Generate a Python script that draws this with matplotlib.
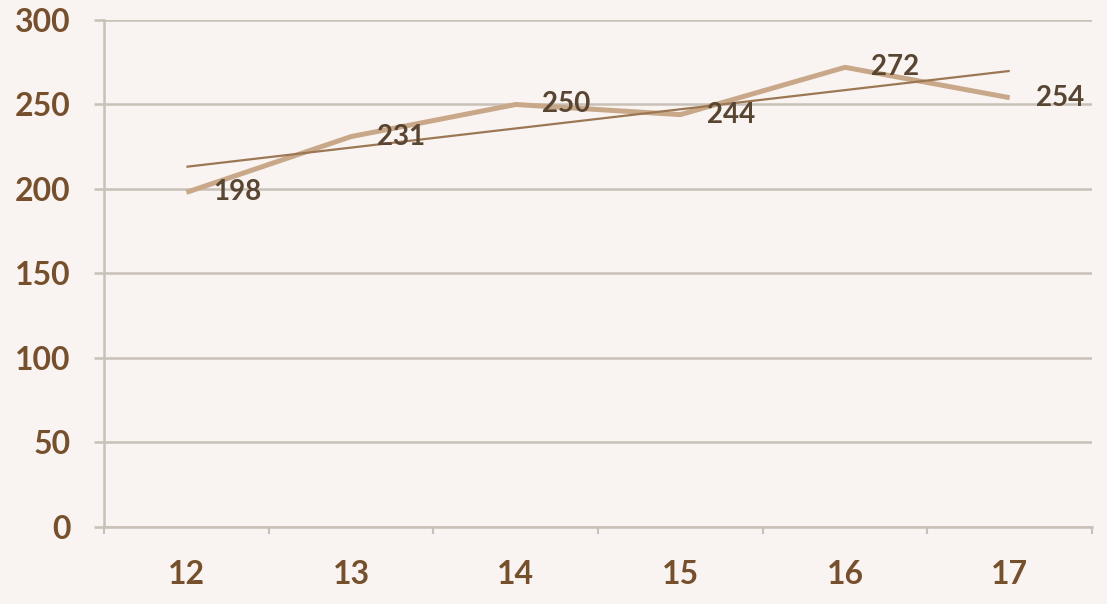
import matplotlib
matplotlib.use("Agg")
import matplotlib.pyplot as plt
import numpy as np

# Values per year
categories = ["12", "13", "14", "15", "16", "17"]
values = [198, 231, 250, 244, 272, 254]
y_ticks = [0, 50, 100, 150, 200, 250, 300]

bg = "#f9f4f2"
grid_col = "#c9c1b8"
line_col = "#c8a888"
trend_col = "#9c7754"
tick_col = "#76502c"
label_col = "#584532"

fig = plt.figure(figsize=(11.07, 6.04), dpi=100, facecolor=bg)
ax = fig.add_axes([0.094, 0.1275, 0.8925, 0.8394], facecolor=bg)

x = np.arange(len(categories))

# Linear trend fitted to the series
coef = np.polyfit(x, values, 1)
ax.plot(x, np.polyval(coef, x), color=trend_col, lw=1.6, zorder=3,
        solid_capstyle="butt")

ax.plot(x, values, color=line_col, lw=3.6, zorder=2, solid_capstyle="butt",
        solid_joinstyle="round")

for xi, v in zip(x, values):
    ax.annotate(str(v), (xi, v), xytext=(19, 0), textcoords="offset points",
                ha="left", va="center", fontsize=20, fontweight="bold",
                family="Lato", color=label_col, zorder=4)

ax.set_xlim(-0.5, len(categories) - 0.5)
ax.set_ylim(0, 300)

ax.set_yticks(y_ticks)
ax.set_yticklabels([str(t) for t in y_ticks])
ax.yaxis.grid(True, color=grid_col, lw=1.8)
ax.set_axisbelow(True)

# Category boundaries carry the tick marks; labels sit at the centers
ax.set_xticks(np.arange(-0.5, len(categories), 1.0))
ax.set_xticklabels([])
ax.set_xticks(x, minor=True)
ax.set_xticklabels(categories, minor=True)
ax.tick_params(axis="x", which="major", length=5, width=1.5, color=grid_col,
               direction="out")
ax.tick_params(axis="x", which="minor", length=0, pad=24, labelsize=23,
               labelcolor=tick_col)
ax.tick_params(axis="y", length=7, width=1.8, color=grid_col, pad=17,
               labelsize=23, labelcolor=tick_col)

for lbl in ax.get_xticklabels(minor=True) + ax.get_yticklabels():
    lbl.set_fontweight("bold")
    lbl.set_family("Lato")

for side in ["top", "right"]:
    ax.spines[side].set_visible(False)
ax.spines["left"].set_color(grid_col)
ax.spines["left"].set_linewidth(1.8)
ax.spines["bottom"].set_color(grid_col)
ax.spines["bottom"].set_linewidth(1.8)

fig.savefig("out.png", dpi=100, facecolor=bg)
